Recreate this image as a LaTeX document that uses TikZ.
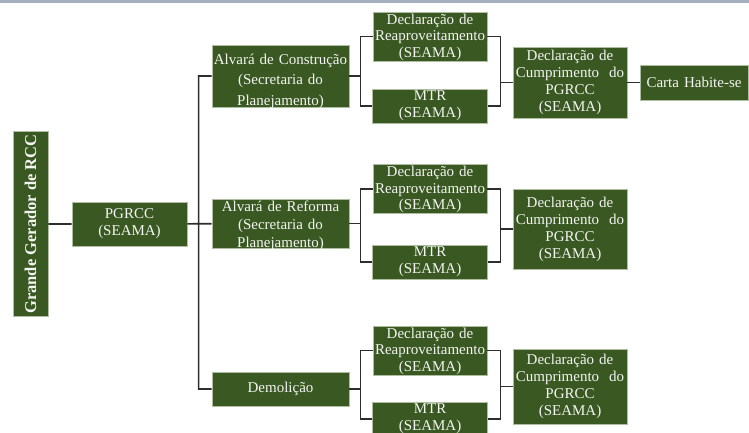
\documentclass[tikz,border=0pt]{standalone}
\usepackage{fontspec}
\setmainfont{Liberation Serif}
\usetikzlibrary{positioning}
\definecolor{boxgreen}{RGB}{58,88,34}
\definecolor{boxedge}{RGB}{175,190,160}
\definecolor{framegray}{RGB}{165,175,190}
\definecolor{linegray}{RGB}{45,45,45}

\begin{document}
\begin{tikzpicture}[x=1pt,y=-1pt,
  box/.style={fill=boxgreen,draw=boxedge,line width=0.8pt,text=white!94!boxgreen,
    align=center,inner xsep=1pt,inner ysep=0pt,font=\fontsize{15}{17}\selectfont},
  reapbox/.style={box,text width=112,text height=12,text depth=37,
    font=\fontsize{15}{16.5}\selectfont},
  mtrbox/.style={box,text width=113,minimum height=34},
  cumpbox/.style={box,text width=112},
  conn/.style={draw=linegray,line width=1.6pt}]
\useasboundingbox (0,0) rectangle (749,432);
\clip (0,0) rectangle (749,432);
\fill[framegray] (0,0) rectangle (749,2.5);

\node[box,rotate=90,minimum width=185,minimum height=35,
  font=\bfseries\fontsize{16.5}{18}\selectfont] (grande) at (30.5,224) {Grande Gerador de RCC};
\node[box,text width=113,minimum height=44] (pgrcc) at (129.5,224) {PGRCC\\(SEAMA)};

\node[box,text width=135,text height=19,text depth=43,font=\fontsize{15}{20.5}\selectfont]
  (alvc) at (280.5,76) {Alvará de Construção\\(Secretaria do\\Planejamento)};
\node[box,text width=135,text height=12,text depth=37,font=\fontsize{15}{18}\selectfont]
  (alvr) at (280.5,223.5) {Alvará de Reforma\\(Secretaria do\\Planejamento)};
\node[box,text width=135,minimum height=34] (demol) at (280.5,389) {Demolição};

% primeiro ramo
\node[reapbox] (reapa) at (430,36.5) {Declaração de\\Reaproveitamento\\(SEAMA)};
\node[mtrbox] (mtra) at (430,106) {MTR\\(SEAMA)};
\node[cumpbox,minimum height=71] (cumpa) at (570,82.5) {Declaração de\\Cumprimento~ do\\PGRCC\\(SEAMA)};
\node[box,text width=106,minimum height=35] (carta) at (694,82.5) {Carta Habite-se};

% segundo ramo
\node[reapbox] (reapb) at (430,189) {Declaração de\\Reaproveitamento\\(SEAMA)};
\node[mtrbox] (mtrb) at (430,262) {MTR\\(SEAMA)};
\node[cumpbox,minimum height=80] (cumpb) at (570,229) {Declaração de\\Cumprimento~ do\\PGRCC\\(SEAMA)};

% terceiro ramo
\node[reapbox] (reapc) at (430,350.5) {Declaração de\\Reaproveitamento\\(SEAMA)};
\node[mtrbox] (mtrc) at (430,419) {MTR\\(SEAMA)};
\node[cumpbox,minimum height=75] (cumpc) at (570,386.5) {Declaração de\\Cumprimento~ do\\PGRCC\\(SEAMA)};

\draw[conn]
(grande) -- (pgrcc)
(pgrcc) -- (alvr)
(alvc.west) -- ++(-13,0) |- (demol.west)
;
\draw[conn]
(alvc.east) -- ++(12,0)
(reapa.west) -- ++(-12,0) |- (mtra.west)
(reapa.east) -- ++(13,0) |- (mtra.east)
(cumpa.west) -- ++(-13,0)
(cumpa) -- (carta)
(alvr.east) -- ++(12,0)
(reapb.west) -- ++(-12,0) |- (mtrb.west)
(reapb.east) -- ++(13,0) |- (mtrb.east)
(cumpb.west) -- ++(-13,0)
(demol.east) -- ++(12,0)
(reapc.west) -- ++(-12,0) |- (mtrc.west)
(reapc.east) -- ++(13,0) |- (mtrc.east)
(cumpc.west) -- ++(-13,0)
;
\end{tikzpicture}
\end{document}
